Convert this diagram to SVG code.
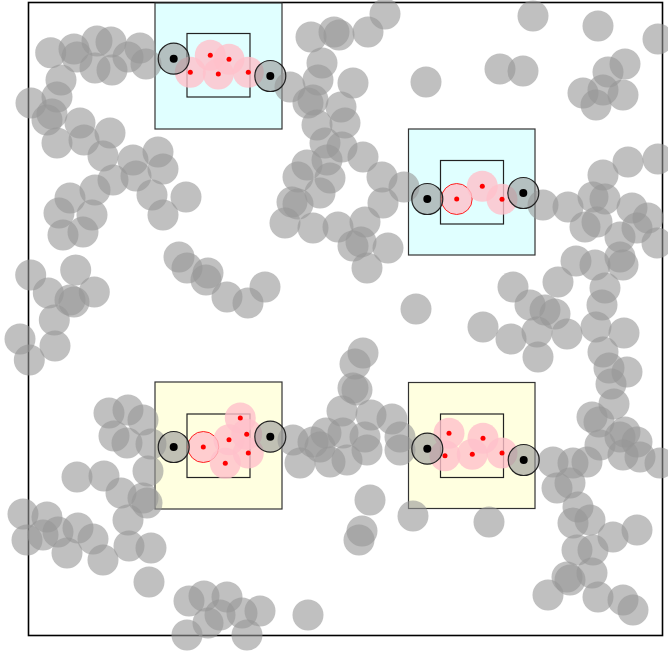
<svg xmlns="http://www.w3.org/2000/svg" width="668" height="653" viewBox="0 0 668 653">
<style>
.g{fill:#969696;fill-opacity:0.6}
.box{stroke:#333;stroke-width:1.2}
.cy{fill:#e0ffff}
.ye{fill:#ffffe0}
.inner{fill:none;stroke:#222;stroke-width:1.2}
.p{fill:#ffc0cb;fill-opacity:0.8}
.pr{fill:#ffc0cb;fill-opacity:0.8;stroke:#f22;stroke-width:1}
.d{fill:#f00}
.e{fill:#969696;fill-opacity:0.6;stroke:#222;stroke-width:1.2}
.ed{fill:#000}
</style>
<rect width="668" height="653" fill="#fff"/>
<rect x="28.5" y="2.5" width="634" height="633" fill="none" stroke="#000" stroke-width="1.6"/>
<g id="boxes">
<rect class="box cy" x="155" y="3" width="127" height="126"/>
<rect class="box cy" x="408.5" y="129" width="126.5" height="126"/>
<rect class="box ye" x="155" y="382" width="127" height="127"/>
<rect class="box ye" x="408.5" y="382.5" width="126.5" height="126"/>
<rect class="inner" x="187" y="33.5" width="63" height="63.5"/>
<rect class="inner" x="440.5" y="160.5" width="63" height="63.5"/>
<rect class="inner" x="187" y="414" width="63" height="63.5"/>
<rect class="inner" x="440.5" y="414" width="63" height="63.5"/>
</g>
<g id="particles">
<circle class="g" cx="50.7" cy="52.7" r="15.5"/><circle class="g" cx="74" cy="49" r="15.5"/><circle class="g" cx="77" cy="57" r="15.5"/><circle class="g" cx="97" cy="41" r="15.5"/><circle class="g" cx="111" cy="42" r="15.5"/><circle class="g" cx="95" cy="68" r="15.5"/><circle class="g" cx="112" cy="70" r="15.5"/><circle class="g" cx="128" cy="57" r="15.5"/><circle class="g" cx="140" cy="48" r="15.5"/><circle class="g" cx="146" cy="64" r="15.5"/>
<circle class="g" cx="61" cy="80" r="15.5"/><circle class="g" cx="57" cy="97" r="15.5"/><circle class="g" cx="31" cy="103" r="15.5"/><circle class="g" cx="47" cy="120" r="15.5"/><circle class="g" cx="52" cy="114" r="15.5"/><circle class="g" cx="57" cy="143" r="15.5"/><circle class="g" cx="80" cy="123" r="15.5"/><circle class="g" cx="84" cy="140" r="15.5"/><circle class="g" cx="110" cy="133" r="15.5"/><circle class="g" cx="103" cy="156" r="15.5"/><circle class="g" cx="113" cy="180" r="15.5"/><circle class="g" cx="133" cy="160" r="15.5"/><circle class="g" cx="136" cy="176" r="15.5"/><circle class="g" cx="158" cy="152" r="15.5"/><circle class="g" cx="163" cy="169" r="15.5"/><circle class="g" cx="152" cy="195" r="15.5"/><circle class="g" cx="186" cy="197" r="15.5"/><circle class="g" cx="95" cy="190" r="15.5"/><circle class="g" cx="70" cy="198" r="15.5"/><circle class="g" cx="59" cy="213" r="15.5"/><circle class="g" cx="92" cy="215" r="15.5"/><circle class="g" cx="163" cy="215" r="15.5"/><circle class="g" cx="63" cy="235" r="15.5"/><circle class="g" cx="83" cy="232" r="15.5"/>
<circle class="g" cx="30.7" cy="275" r="15.5"/><circle class="g" cx="75.7" cy="270" r="15.5"/><circle class="g" cx="48.3" cy="293" r="15.5"/><circle class="g" cx="70" cy="300" r="15.5"/><circle class="g" cx="74" cy="302" r="15.5"/><circle class="g" cx="94.3" cy="292" r="15.5"/><circle class="g" cx="54.3" cy="320" r="15.5"/><circle class="g" cx="20" cy="339" r="15.5"/><circle class="g" cx="29.3" cy="360" r="15.5"/><circle class="g" cx="55" cy="346" r="15.5"/>
<circle class="g" cx="179" cy="257" r="15.5"/><circle class="g" cx="187" cy="268" r="15.5"/><circle class="g" cx="208" cy="273" r="15.5"/><circle class="g" cx="206" cy="280" r="15.5"/><circle class="g" cx="227" cy="297" r="15.5"/><circle class="g" cx="248" cy="303" r="15.5"/><circle class="g" cx="265" cy="287" r="15.5"/>
<circle class="g" cx="109" cy="413" r="15.5"/><circle class="g" cx="128" cy="410" r="15.5"/><circle class="g" cx="143" cy="420" r="15.5"/><circle class="g" cx="114" cy="436" r="15.5"/><circle class="g" cx="127" cy="443" r="15.5"/><circle class="g" cx="151" cy="444" r="15.5"/><circle class="g" cx="148" cy="471" r="15.5"/>
<circle class="g" cx="77" cy="477" r="15.5"/><circle class="g" cx="104" cy="476" r="15.5"/><circle class="g" cx="121" cy="493" r="15.5"/><circle class="g" cx="143" cy="498" r="15.5"/><circle class="g" cx="147" cy="503" r="15.5"/>
<circle class="g" cx="23" cy="514" r="15.5"/><circle class="g" cx="47" cy="517" r="15.5"/><circle class="g" cx="27" cy="540" r="15.5"/><circle class="g" cx="43" cy="535" r="15.5"/><circle class="g" cx="58" cy="532" r="15.5"/><circle class="g" cx="78" cy="528" r="15.5"/><circle class="g" cx="67" cy="553" r="15.5"/><circle class="g" cx="93" cy="539" r="15.5"/><circle class="g" cx="103" cy="560" r="15.5"/><circle class="g" cx="128" cy="520" r="15.5"/><circle class="g" cx="129" cy="546" r="15.5"/><circle class="g" cx="151" cy="548" r="15.5"/><circle class="g" cx="149" cy="582" r="15.5"/>
<circle class="g" cx="189" cy="601" r="15.5"/><circle class="g" cx="204" cy="596" r="15.5"/><circle class="g" cx="227" cy="597" r="15.5"/><circle class="g" cx="242" cy="613" r="15.5"/><circle class="g" cx="260" cy="611" r="15.5"/><circle class="g" cx="220" cy="615" r="15.5"/><circle class="g" cx="208" cy="623" r="15.5"/><circle class="g" cx="187" cy="635" r="15.5"/><circle class="g" cx="247" cy="635" r="15.5"/><circle class="g" cx="308" cy="615" r="15.5"/>
<circle class="g" cx="311" cy="37" r="15.5"/><circle class="g" cx="334" cy="32" r="15.5"/><circle class="g" cx="339" cy="35" r="15.5"/><circle class="g" cx="368" cy="32" r="15.5"/><circle class="g" cx="385" cy="14" r="15.5"/><circle class="g" cx="322" cy="63" r="15.5"/><circle class="g" cx="353" cy="83" r="15.5"/><circle class="g" cx="426" cy="82" r="15.5"/><circle class="g" cx="290" cy="87" r="15.5"/><circle class="g" cx="318" cy="80" r="15.5"/><circle class="g" cx="308" cy="103" r="15.5"/><circle class="g" cx="313" cy="100" r="15.5"/><circle class="g" cx="341" cy="107" r="15.5"/><circle class="g" cx="317" cy="125" r="15.5"/><circle class="g" cx="345" cy="123" r="15.5"/><circle class="g" cx="325" cy="143" r="15.5"/><circle class="g" cx="342" cy="147" r="15.5"/><circle class="g" cx="363" cy="157" r="15.5"/><circle class="g" cx="327" cy="160" r="15.5"/><circle class="g" cx="307" cy="165" r="15.5"/><circle class="g" cx="298" cy="177" r="15.5"/><circle class="g" cx="330" cy="178" r="15.5"/><circle class="g" cx="382" cy="177" r="15.5"/><circle class="g" cx="404" cy="187" r="15.5"/><circle class="g" cx="320" cy="193" r="15.5"/><circle class="g" cx="292" cy="202" r="15.5"/><circle class="g" cx="298" cy="204" r="15.5"/><circle class="g" cx="383" cy="203" r="15.5"/><circle class="g" cx="285" cy="223" r="15.5"/><circle class="g" cx="313" cy="228" r="15.5"/><circle class="g" cx="338" cy="227" r="15.5"/><circle class="g" cx="365" cy="222" r="15.5"/><circle class="g" cx="353" cy="246" r="15.5"/><circle class="g" cx="361" cy="242" r="15.5"/><circle class="g" cx="388" cy="248" r="15.5"/><circle class="g" cx="367" cy="268" r="15.5"/>
<circle class="g" cx="416" cy="309" r="15.5"/><circle class="g" cx="363" cy="353" r="15.5"/><circle class="g" cx="355" cy="364" r="15.5"/><circle class="g" cx="353" cy="388" r="15.5"/><circle class="g" cx="357" cy="390" r="15.5"/><circle class="g" cx="342" cy="411" r="15.5"/><circle class="g" cx="371" cy="415" r="15.5"/><circle class="g" cx="392" cy="419" r="15.5"/>
<circle class="g" cx="293" cy="440" r="15.5"/><circle class="g" cx="313" cy="442" r="15.5"/><circle class="g" cx="326" cy="433" r="15.5"/><circle class="g" cx="343" cy="433" r="15.5"/><circle class="g" cx="365" cy="437" r="15.5"/><circle class="g" cx="400" cy="437" r="15.5"/><circle class="g" cx="300" cy="463" r="15.5"/><circle class="g" cx="320" cy="447" r="15.5"/><circle class="g" cx="330" cy="462" r="15.5"/><circle class="g" cx="347" cy="460" r="15.5"/><circle class="g" cx="367" cy="450" r="15.5"/><circle class="g" cx="400" cy="450" r="15.5"/>
<circle class="g" cx="370" cy="500" r="15.5"/><circle class="g" cx="362" cy="531" r="15.5"/><circle class="g" cx="359" cy="540" r="15.5"/><circle class="g" cx="413" cy="516" r="15.5"/><circle class="g" cx="489" cy="522" r="15.5"/>
<circle class="g" cx="533" cy="16" r="15.5"/><circle class="g" cx="598" cy="26" r="15.5"/><circle class="g" cx="658" cy="39" r="15.5"/><circle class="g" cx="500" cy="69" r="15.5"/><circle class="g" cx="523" cy="71" r="15.5"/><circle class="g" cx="625" cy="64" r="15.5"/><circle class="g" cx="608" cy="72" r="15.5"/><circle class="g" cx="583" cy="93" r="15.5"/><circle class="g" cx="603" cy="90" r="15.5"/><circle class="g" cx="623" cy="95" r="15.5"/><circle class="g" cx="596" cy="105" r="15.5"/>
<circle class="g" cx="628" cy="162" r="15.5"/><circle class="g" cx="658" cy="159" r="15.5"/><circle class="g" cx="603" cy="175" r="15.5"/><circle class="g" cx="593" cy="197" r="15.5"/><circle class="g" cx="605" cy="199" r="15.5"/><circle class="g" cx="568" cy="207" r="15.5"/><circle class="g" cx="543" cy="205" r="15.5"/><circle class="g" cx="632" cy="208" r="15.5"/><circle class="g" cx="648" cy="218" r="15.5"/><circle class="g" cx="597" cy="222" r="15.5"/>
<circle class="g" cx="585" cy="227" r="15.5"/><circle class="g" cx="620" cy="237" r="15.5"/><circle class="g" cx="637" cy="228" r="15.5"/><circle class="g" cx="657" cy="243" r="15.5"/><circle class="g" cx="576" cy="261" r="15.5"/><circle class="g" cx="595" cy="265" r="15.5"/><circle class="g" cx="620" cy="257" r="15.5"/><circle class="g" cx="623" cy="265" r="15.5"/><circle class="g" cx="605" cy="288" r="15.5"/><circle class="g" cx="602" cy="305" r="15.5"/><circle class="g" cx="596" cy="327" r="15.5"/><circle class="g" cx="624" cy="333" r="15.5"/><circle class="g" cx="603" cy="352" r="15.5"/><circle class="g" cx="609" cy="368" r="15.5"/><circle class="g" cx="627" cy="372" r="15.5"/><circle class="g" cx="611" cy="384" r="15.5"/><circle class="g" cx="614" cy="404" r="15.5"/><circle class="g" cx="592" cy="417" r="15.5"/><circle class="g" cx="599" cy="422" r="15.5"/><circle class="g" cx="625" cy="432" r="15.5"/><circle class="g" cx="620" cy="437" r="15.5"/><circle class="g" cx="637" cy="442" r="15.5"/>
<circle class="g" cx="513" cy="287" r="15.5"/><circle class="g" cx="530" cy="305" r="15.5"/><circle class="g" cx="558" cy="282" r="15.5"/><circle class="g" cx="545" cy="310" r="15.5"/><circle class="g" cx="555" cy="314" r="15.5"/><circle class="g" cx="537" cy="332" r="15.5"/><circle class="g" cx="483" cy="327" r="15.5"/><circle class="g" cx="511" cy="339" r="15.5"/><circle class="g" cx="538" cy="357" r="15.5"/><circle class="g" cx="567" cy="334" r="15.5"/>
<circle class="g" cx="553" cy="462" r="15.5"/><circle class="g" cx="573" cy="463" r="15.5"/><circle class="g" cx="587" cy="462" r="15.5"/><circle class="g" cx="600" cy="445" r="15.5"/><circle class="g" cx="623" cy="455" r="15.5"/><circle class="g" cx="640" cy="457" r="15.5"/><circle class="g" cx="660" cy="463" r="15.5"/><circle class="g" cx="557" cy="488" r="15.5"/><circle class="g" cx="570" cy="483" r="15.5"/><circle class="g" cx="578" cy="507" r="15.5"/><circle class="g" cx="590" cy="520" r="15.5"/><circle class="g" cx="573" cy="523" r="15.5"/><circle class="g" cx="613" cy="537" r="15.5"/><circle class="g" cx="637" cy="530" r="15.5"/><circle class="g" cx="577" cy="550" r="15.5"/><circle class="g" cx="593" cy="550" r="15.5"/><circle class="g" cx="567" cy="577" r="15.5"/><circle class="g" cx="570" cy="580" r="15.5"/><circle class="g" cx="592" cy="573" r="15.5"/><circle class="g" cx="548" cy="595" r="15.5"/><circle class="g" cx="598" cy="597" r="15.5"/><circle class="g" cx="623" cy="600" r="15.5"/><circle class="g" cx="633" cy="610" r="15.5"/>
</g>
<g id="region-top-left">
<circle class="p" cx="210.3" cy="55.3" r="15.5"/><circle class="p" cx="229" cy="59.3" r="15.5"/><circle class="p" cx="190.3" cy="72.3" r="15.5"/><circle class="p" cx="218.3" cy="74" r="15.5"/><circle class="p" cx="248.3" cy="72.3" r="15.5"/>
<circle class="d" cx="210.3" cy="55.3" r="2.5"/><circle class="d" cx="229" cy="59.3" r="2.5"/><circle class="d" cx="190.3" cy="72.3" r="2.5"/><circle class="d" cx="218.3" cy="74" r="2.5"/><circle class="d" cx="248.3" cy="72.3" r="2.5"/>
<circle class="e" cx="173.7" cy="58.7" r="15.5"/><circle class="ed" cx="173.7" cy="58.7" r="4"/>
<circle class="e" cx="270.3" cy="76" r="15.5"/><circle class="ed" cx="270.3" cy="76" r="4"/>
</g>
<g id="region-top-right">
<circle class="pr" cx="456.7" cy="199" r="15.5"/><circle class="p" cx="482.3" cy="186.3" r="15.5"/><circle class="p" cx="502" cy="199.3" r="15.5"/>
<circle class="d" cx="456.7" cy="199" r="2.5"/><circle class="d" cx="482.3" cy="186.3" r="2.5"/><circle class="d" cx="502" cy="199.3" r="2.5"/>
<circle class="e" cx="427.3" cy="199" r="15.5"/><circle class="ed" cx="427.3" cy="199" r="4"/>
<circle class="e" cx="523.3" cy="193" r="15.5"/><circle class="ed" cx="523.3" cy="193" r="4"/>
</g>
<g id="region-bottom-left">
<circle class="pr" cx="203.3" cy="447" r="15.5"/><circle class="p" cx="240.3" cy="418" r="15.5"/><circle class="p" cx="246.7" cy="434.3" r="15.5"/><circle class="p" cx="229" cy="439.7" r="15.5"/><circle class="p" cx="248.3" cy="453" r="15.5"/><circle class="p" cx="225.3" cy="463.3" r="15.5"/>
<circle class="d" cx="203.3" cy="447" r="2.5"/><circle class="d" cx="240.3" cy="418" r="2.5"/><circle class="d" cx="246.7" cy="434.3" r="2.5"/><circle class="d" cx="229" cy="439.7" r="2.5"/><circle class="d" cx="248.3" cy="453" r="2.5"/><circle class="d" cx="225.3" cy="463.3" r="2.5"/>
<circle class="e" cx="173.7" cy="447" r="15.5"/><circle class="ed" cx="173.7" cy="447" r="4"/>
<circle class="e" cx="270.3" cy="436.7" r="15.5"/><circle class="ed" cx="270.3" cy="436.7" r="4"/>
</g>
<g id="region-bottom-right">
<circle class="p" cx="449" cy="433.3" r="15.5"/><circle class="p" cx="483" cy="438.3" r="15.5"/><circle class="p" cx="445" cy="455.7" r="15.5"/><circle class="p" cx="472.3" cy="454.3" r="15.5"/><circle class="p" cx="502" cy="453" r="15.5"/>
<circle class="d" cx="449" cy="433.3" r="2.5"/><circle class="d" cx="483" cy="438.3" r="2.5"/><circle class="d" cx="445" cy="455.7" r="2.5"/><circle class="d" cx="472.3" cy="454.3" r="2.5"/><circle class="d" cx="502" cy="453" r="2.5"/>
<circle class="e" cx="427.3" cy="448.7" r="15.5"/><circle class="ed" cx="427.3" cy="448.7" r="4"/>
<circle class="e" cx="523.7" cy="460" r="15.5"/><circle class="ed" cx="523.7" cy="460" r="4"/>
</g>
</svg>
